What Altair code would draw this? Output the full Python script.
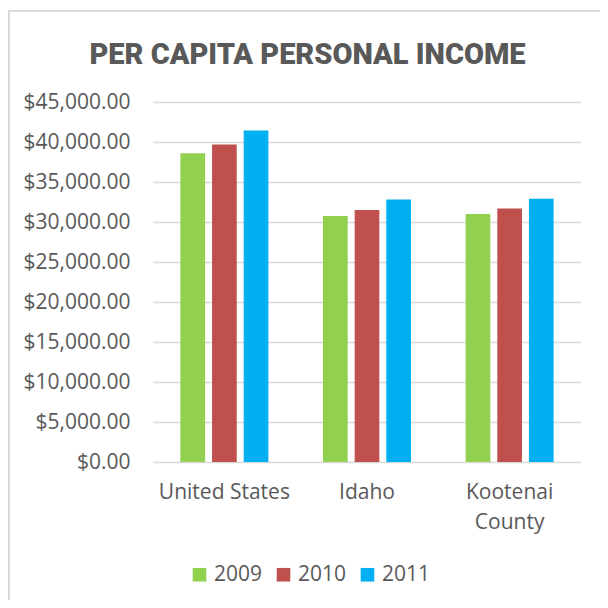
import altair as alt
import pandas as pd

regions = ["United States", "Idaho", "Kootenai County"]
years = ["2009", "2010", "2011"]
us_values = [38600, 39700, 41450]
idaho_values = [30750, 31500, 32800]
kootenai_values = [31000, 31700, 32900]
colors = ["#92D050", "#C0504D", "#00B0F0"]
y_ticks = [0, 5000, 10000, 15000, 20000, 25000, 30000, 35000, 40000, 45000]
title_text = "PER CAPITA PERSONAL INCOME"

rows = []
for r, vals in zip(regions, [us_values, idaho_values, kootenai_values]):
    for yr, v in zip(years, vals):
        rows.append({"region": r, "year": yr, "income": v})
df = pd.DataFrame(rows)

FONT = "Open Sans"
TXT = "#595959"

bars = alt.Chart(df).mark_bar().encode(
    x=alt.X(
        "region:N",
        sort=regions,
        scale=alt.Scale(paddingInner=0.383, paddingOuter=0.192),
        axis=alt.Axis(
            title=None, labelAngle=0, domain=False, ticks=False,
            labelExpr="datum.value == 'Kootenai County' ? ['Kootenai', 'County'] : datum.value",
            labelFont=FONT, labelFontSize=21, labelColor=TXT,
            labelPadding=19, labelLineHeight=30,
        ),
    ),
    xOffset=alt.XOffset("year:N", sort=years, scale=alt.Scale(paddingInner=0.22)),
    y=alt.Y(
        "income:Q",
        scale=alt.Scale(domain=[0, 45000], nice=False),
        axis=alt.Axis(
            values=y_ticks, format="$,.2f", title=None, domain=False, ticks=False,
            labelFont=FONT, labelFontSize=21, labelColor=TXT, labelPadding=23,
            gridColor="#d9d9d9", gridWidth=1.4,
        ),
    ),
    color=alt.Color(
        "year:N",
        scale=alt.Scale(domain=years, range=colors),
        legend=alt.Legend(
            title=None, orient="none", direction="horizontal",
            legendX=36, legendY=462,
            symbolType="square", symbolSize=185, symbolStrokeWidth=0,
            labelFont=FONT, labelFontSize=21, labelColor=TXT,
            labelOffset=4, columnPadding=10, padding=0,
        ),
    ),
)

one = pd.DataFrame({"k": [0]})
top_border = alt.Chart(one).mark_rule(color="#d9d9d9", strokeWidth=2, clip=False).encode(
    x=alt.value(-145), x2=alt.value(447), y=alt.value(-91)
)
left_border = alt.Chart(one).mark_rule(color="#d9d9d9", strokeWidth=2, clip=False).encode(
    x=alt.value(-144), y=alt.value(-91), y2=alt.value(498)
)
title = alt.Chart(one).mark_text(
    text=title_text, font="Roboto", fontWeight=900, fontSize=29,
    color=TXT, align="center", baseline="alphabetic", clip=False,
).encode(x=alt.value(154.5), y=alt.value(-38))

chart = alt.layer(bars, top_border, left_border, title).properties(
    width=428,
    height=360,
    autosize="none",
    padding={"left": 145, "top": 94, "right": 19, "bottom": 138},
).configure_view(stroke=None)

chart.save("out.html", embed_options={"renderer": "svg", "actions": False})
